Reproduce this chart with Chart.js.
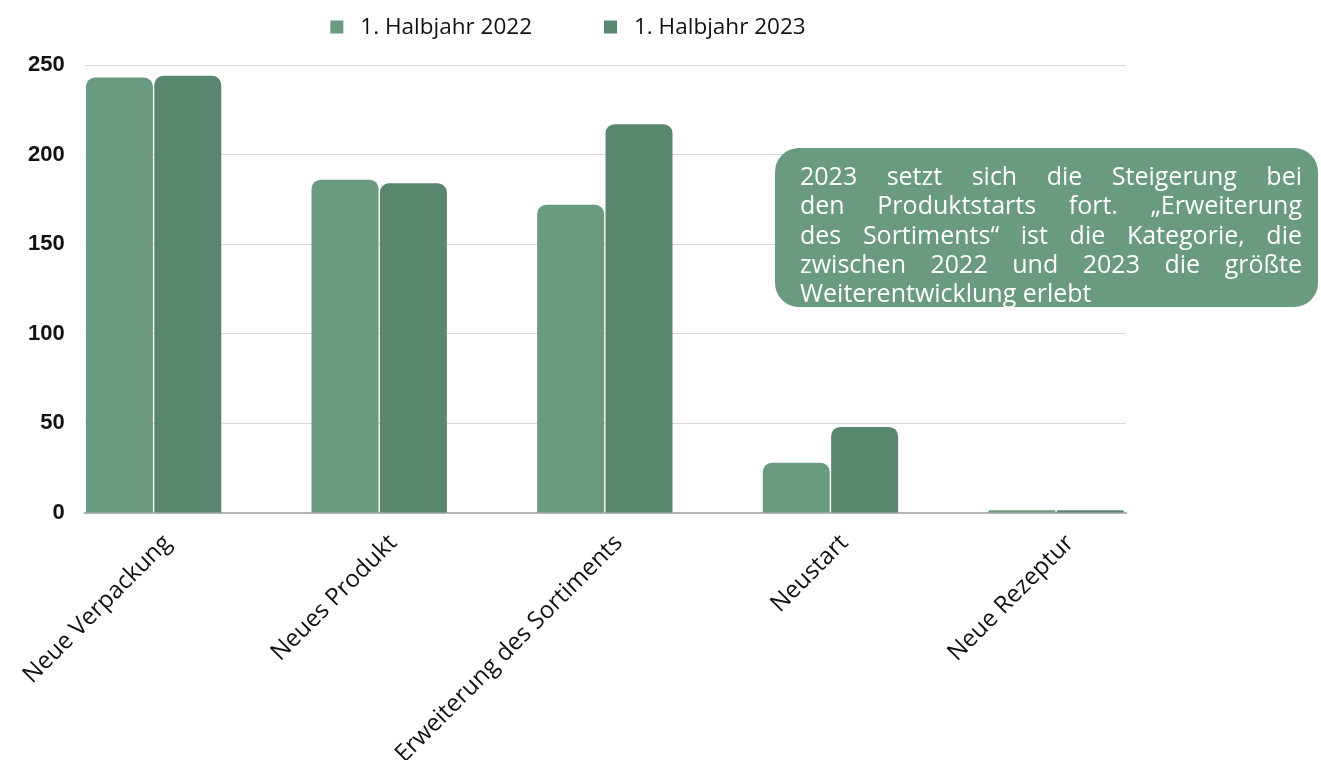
<!DOCTYPE html>
<html><head><meta charset="utf-8">
<script src="https://cdn.jsdelivr.net/npm/chart.js@4.4.0/dist/chart.umd.min.js"></script>
<style>html,body{margin:0;padding:0;background:#fff;}canvas{display:block;}</style>
</head><body>
<canvas id="c" width="1321" height="760"></canvas>
<script>
const categories = ['Neue Verpackung', 'Neues Produkt', 'Erweiterung des Sortiments', 'Neustart', 'Neue Rezeptur'];
const seriesLabels = ['1. Halbjahr 2022', '1. Halbjahr 2023'];
const values2022 = [243, 186, 172, 28, 1.5];
const values2023 = [244, 184, 217, 48, 1.5];
const yTickValues = [0, 50, 100, 150, 200, 250];
const calloutLines = [
  '2023 setzt sich die Steigerung bei',
  'den Produktstarts fort. \u201EErweiterung',
  'des Sortiments\u201C ist die Kategorie, die',
  'zwischen 2022 und 2023 die gr\u00F6\u00DFte',
  'Weiterentwicklung erlebt'
];

const COLORS = ['#6a9a80', '#58866f'];
const FONT = "'Open Sans', sans-serif";

const legendPlugin = {
  id: 'customLegend',
  afterDraw(chart) {
    const ctx = chart.ctx;
    ctx.save();
    ctx.font = '500 22.5px ' + FONT;
    const sq = 13, gapText = 17, gapItem = 72;
    const widths = chart.data.datasets.map(d => ctx.measureText(d.label).width);
    const total = widths.reduce((a, w) => a + sq + gapText + w, 0) + gapItem * (widths.length - 1);
    let x = 568 - total / 2;
    const cy = 27;
    chart.data.datasets.forEach((d, i) => {
      ctx.fillStyle = d.backgroundColor;
      ctx.fillRect(x, cy - sq / 2, sq, sq);
      x += sq + gapText;
      ctx.fillStyle = '#111111';
      ctx.textBaseline = 'middle';
      ctx.textAlign = 'left';
      ctx.fillText(d.label, x, cy + 1);
      x += widths[i] + gapItem;
    });
    ctx.restore();
  }
};

function roundRectPath(ctx, x, y, w, h, r) {
  ctx.beginPath();
  ctx.moveTo(x + r, y);
  ctx.lineTo(x + w - r, y);
  ctx.arcTo(x + w, y, x + w, y + r, r);
  ctx.lineTo(x + w, y + h - r);
  ctx.arcTo(x + w, y + h, x + w - r, y + h, r);
  ctx.lineTo(x + r, y + h);
  ctx.arcTo(x, y + h, x, y + h - r, r);
  ctx.lineTo(x, y + r);
  ctx.arcTo(x, y, x + r, y, r);
  ctx.closePath();
}

const calloutPlugin = {
  id: 'callout',
  afterDraw(chart) {
    const ctx = chart.ctx;
    ctx.save();
    ctx.fillStyle = '#6a9a7f';
    roundRectPath(ctx, 775, 148, 543, 159, 24);
    ctx.fill();
    ctx.font = '500 25px ' + FONT;
    ctx.fillStyle = '#ffffff';
    ctx.textBaseline = 'middle';
    ctx.textAlign = 'left';
    const left = 800, right = 1302, y0 = 178, lh = 29.3;
    calloutLines.forEach((line, li) => {
      const y = y0 + li * lh;
      const words = line.split(' ');
      if (li === calloutLines.length - 1 || words.length < 2) {
        ctx.fillText(line, left, y);
        return;
      }
      const ww = words.map(w => ctx.measureText(w).width);
      const sum = ww.reduce((a, b) => a + b, 0);
      const gap = (right - left - sum) / (words.length - 1);
      let x = left;
      words.forEach((w, i) => { ctx.fillText(w, x, y); x += ww[i] + gap; });
    });
    ctx.restore();
  }
};

const chart = new Chart(document.getElementById('c'), {
  type: 'bar',
  data: {
    datasets: [
      { label: seriesLabels[0], data: values2022.map((v, i) => ({ x: i, y: v })), backgroundColor: COLORS[0] },
      { label: seriesLabels[1], data: values2023.map((v, i) => ({ x: i, y: v })), backgroundColor: COLORS[1] }
    ]
  },
  options: {
    responsive: false,
    devicePixelRatio: 1,
    animation: false,
    events: [],
    layout: { padding: { top: 65, right: 195, bottom: 0, left: 0 } },
    datasets: { bar: { categoryPercentage: 0.606, barPercentage: 0.98, borderRadius: 9, borderSkipped: 'start' } },
    plugins: { legend: { display: false }, tooltip: { enabled: false } },
    scales: {
      x: {
        type: 'linear',
        offset: false,
        min: -0.305,
        max: 4.31,
        afterBuildTicks: s => { s.ticks = categories.map((_, i) => ({ value: i })); },
        afterFit: s => { s.height = 247; },
        grid: { display: false, offset: false },
        border: { display: true, color: '#b5b5b5', width: 2 },
        ticks: {
          autoSkip: false,
          minRotation: 45,
          maxRotation: 45,
          labelOffset: 14,
          padding: 8,
          color: '#111111',
          font: { family: FONT, size: 24, weight: '500' },
          callback: v => categories[Math.round(v)]
        }
      },
      y: {
        min: 0,
        max: 250,
        afterBuildTicks: s => { s.ticks = yTickValues.map(v => ({ value: v })); },
        afterFit: s => { s.width = 83; },
        grid: { color: '#d9d9d9', drawTicks: false, lineWidth: 1 },
        border: { display: false },
        ticks: {
          padding: 20,
          color: '#111111',
          font: { family: "'Liberation Sans', Arial, sans-serif", size: 22, weight: 'bold' }
        }
      }
    }
  },
  plugins: [legendPlugin, calloutPlugin]
});
</script>
</body></html>
